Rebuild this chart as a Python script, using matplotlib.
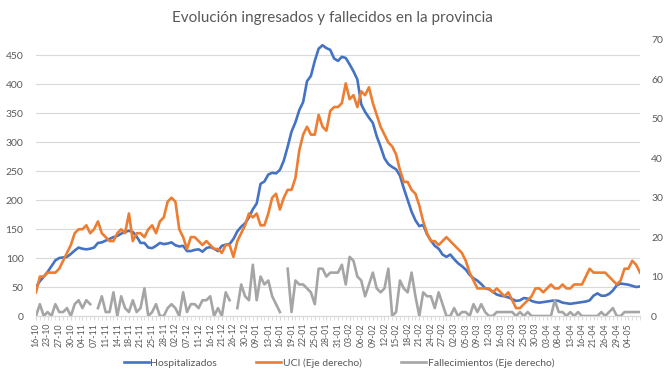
import numpy as np
import matplotlib.pyplot as plt

# daily values, one per category on the x axis
hosp = [50, 60, 68, 76, 86, 96, 100, 101, 102, 107,
        113, 118, 116, 115, 116, 118, 126, 127, 130, 133,
        136, 138, 142, 145, 147, 145, 137, 126, 126, 118,
        117, 121, 126, 124, 125, 127, 122, 120, 121, 112,
        112, 114, 115, 111, 117, 119, 116, 112, 121, 123,
        124, 133, 146, 154, 160, 170, 184, 194, 228, 232,
        244, 247, 246, 252, 268, 292, 318, 334, 355, 369,
        405, 414, 440, 461, 467, 462, 459, 444, 440, 447,
        445, 434, 422, 408, 365, 352, 342, 333, 310, 292,
        272, 262, 257, 253, 242, 220, 200, 180, 165, 155,
        157, 141, 130, 121, 116, 106, 102, 106, 98, 91,
        86, 80, 71, 65, 61, 55, 48, 46, 42, 37,
        35, 34, 32, 29, 26, 27, 31, 30, 26, 24,
        23, 24, 25, 26, 27, 26, 23, 22, 21, 22,
        23, 24, 25, 27, 35, 39, 35, 35, 38, 44,
        53, 56, 55, 54, 52, 50, 51]

uci = [6, 10, 10, 11, 11, 11, 12, 14, 16, 18,
       21, 22, 22, 23, 21, 22, 24, 21, 20, 19,
       19, 21, 22, 21, 26, 19, 21, 21, 20, 22,
       23, 21, 24, 25, 29, 30, 29, 22, 20, 17,
       20, 20, 19, 18, 19, 18, 17, 17, 16, 18,
       18, 15, 19, 21, 23, 26, 25, 26, 23, 23,
       26, 30, 31, 27, 30, 32, 32, 35, 42, 46,
       48, 46, 46, 51, 48, 47, 52, 53, 53, 54,
       59, 55, 56, 53, 57, 56, 58, 54, 51, 48,
       46, 44, 43, 41, 37, 34, 34, 32, 31, 28,
       24, 21, 19, 19, 18, 19, 20, 19, 18, 17,
       16, 14, 11, 9, 7, 7, 7, 7, 6, 7,
       6, 5, 6, 4, 2, 2, 3, 4, 5, 7,
       7, 6, 7, 8, 7, 7, 8, 7, 7, 8,
       8, 8, 10, 12, 11, 11, 11, 11, 10, 9,
       8, 9, 12, 12, 14, 13, 11]

# None = no data that day (gap in the line)
fall = [0, 3, 0, 1, 0, 3, 1, 1, 2, 0,
        3, 4, 2, 4, 3, None, 2, 5, 1, 1,
        6, 0, 5, 2, 1, 4, 1, 2, 7, 0,
        1, 3, 0, 0, 2, 3, 2, 0, 6, 1,
        3, 3, 2, 4, 4, 5, 0, 2, 0, 6,
        4, None, 2, 8, 5, 4, 13, 4, 10, 8,
        9, 5, 3, 1, None, 12, 1, 9, 8, 8,
        7, 6, 3, 12, 12, 10, 11, 11, 11, 13,
        8, 15, 14, 10, 9, 5, 8, 11, 7, 6,
        7, 12, 0, 1, 9, 7, 6, 11, 5, 0,
        6, 5, 5, 2, 6, 3, 0, 0, 2, 0,
        1, 1, 0, 3, 1, 3, 1, 0, 0, 1,
        1, 1, 1, 1, 0, 1, 0, 1, 0, 0,
        0, 0, 0, 0, 4, 1, 1, 0, 1, 0,
        1, 0, 0, 0, 0, 0, 1, 0, 1, 2,
        0, 0, 1, 1, 1, 1, 1]

# labels shown every third category
date_labels = ['16-10', '23-10', '27-10', '30-10', '04-11', '07-11', '11-11', '14-11',
               '18-11', '21-11', '25-11', '28-11', '02-12', '07-12', '11-12', '16-12',
               '21-12', '26-12', '30-12', '09-01', '13-01', '16-01', '19-01', '22-01',
               '25-01', '28-01', '31-01', '03-02', '06-02', '09-02', '12-02', '15-02',
               '18-02', '21-02', '24-02', '27-02', '02-03', '05-03', '09-03', '12-03',
               '16-03', '22-03', '25-03', '30-03', '03-04', '08-04', '13-04', '16-04',
               '21-04', '26-04', '29-04', '04-05']

plt.rcParams['font.family'] = ['Lato', 'DejaVu Sans']
txt = '#595959'
grid = '#d9d9d9'

fig = plt.figure(figsize=(6.7, 3.77), dpi=100)
ax = fig.add_axes([36 / 670, 61 / 377, 604 / 670, 276 / 377])
x = np.arange(len(hosp))

l1, = ax.plot(x, hosp, color='#4472C4', lw=1.9, label='Hospitalizados')
ax2 = ax.twinx()
l2, = ax2.plot(x, uci, color='#ED7D31', lw=1.9, label='UCI (Eje derecho)')
l3, = ax2.plot(x, np.array(fall, dtype=float), color='#A5A5A5', lw=1.9,
               label='Fallecimientos (Eje derecho)')

ax.set_xlim(0, len(hosp) - 1)
ax.set_ylim(0, 476)
ax2.set_ylim(0, 70)
ax.set_yticks(range(0, 451, 50))
ax2.set_yticks(range(0, 71, 10))

ax.set_xticks(x[:3 * len(date_labels):3])
ax.set_xticklabels(date_labels, rotation=90, fontsize=6.3, color=txt)
ax.set_xticks(x, minor=True)
ax.tick_params(axis='x', which='both', length=3, color=grid, pad=2)
ax.tick_params(axis='y', length=0, labelsize=7.5, labelcolor=txt, pad=9)
ax2.tick_params(axis='y', length=0, labelsize=7.5, labelcolor=txt, pad=8)

ax.yaxis.grid(True, color=grid, lw=0.8)
ax.set_axisbelow(True)
for a in (ax, ax2):
    for s in ('top', 'left', 'right'):
        a.spines[s].set_visible(False)
    a.spines['bottom'].set_color(grid)

fig.text(332 / 670, 1 - 18 / 377, 'Evolución ingresados y fallecidos en la provincia',
         ha='center', va='center', fontsize=11, color=txt)

fig.legend(handles=[l1, l2, l3], loc='center', bbox_to_anchor=(339 / 670, 1 - 363 / 377),
           ncol=3, frameon=False, fontsize=7.5, handlelength=2.4, handletextpad=0.15,
           columnspacing=3.8, labelcolor=txt)

fig.savefig('out.png', dpi=100)
